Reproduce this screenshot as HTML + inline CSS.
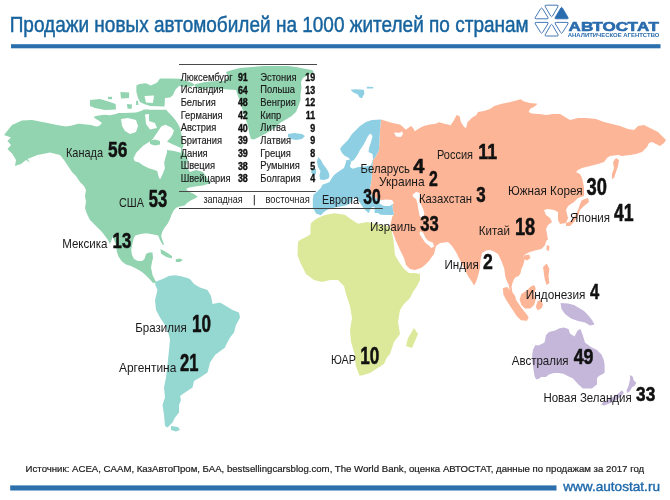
<!DOCTYPE html>
<html><head><meta charset="utf-8"><style>
html,body{margin:0;padding:0;background:#fff;}
body{width:670px;height:500px;overflow:hidden;position:relative;}
svg{position:absolute;left:0;top:0;}
text{font-family:"Liberation Sans","DejaVu Sans",sans-serif;}
</style></head><body>
<svg width="670" height="500" viewBox="0 0 670 500">
<rect width="670" height="500" fill="#fff"/>
<g id="map">
<path d="M4,135 L12,125 L22,120.5 L32,120 L45,122.5 L57,125 L66,126.6 L72,125.4 L78,123.7 L84,124.3 L91,125 L96,126.6 L99,126 L102,123 L99,120.7 L96,119 L93.5,117 L96,116 L100.6,115.3 L105,114.7 L110,115.3 L116,114 L118.5,113 L125,113 L136,112.5 L141,111 L144,109.5 L166,109.5 L168,112 L172,116 L175.4,120 L178,124 L180,128 L181.4,134 L182.6,140 L183.5,145 L182,150 L186,156 L188,160 L186,166 L190,172 L196,170 L203,172 L207,178 L211,183 L203,185.4 L194.6,186.6 L188.6,187.8 L186,189 L188.6,191.4 L193,193.4 L197.8,196.4 L195.4,198.2 L190.6,200.6 L187,203 L184.6,205.4 L179.8,206.6 L176.2,207.8 L173.8,210.2 L171.4,215 L170.2,218.6 L169,221 L167.8,223.4 L166,225.8 L164.2,228.2 L163,230.6 L161.8,233 L161.2,236 L162,239 L163,241.4 L164,245 L162.5,244.5 L160,240 L158.2,235.4 L152.2,234.2 L146.4,233.3 L140.8,234 L135.2,235.4 L133.8,238.2 L132.4,243.8 L131.2,250 L132,255 L134,259 L138,261 L142,261 L144.5,259 L146,254 L149,252.5 L152.5,252.5 L153,258 L152,262 L151,267.5 L152.5,275 L155,280 L156.5,282.5 L153,283 L149.5,279 L146,275.5 L142,272 L137,269 L131,266 L126,264.5 L122,261.5 L118.4,256.4 L117,252.2 L115.6,243.8 L112.8,236.8 L110,244 L108,240 L105,236 L102,232 L98,228 L94,224 L90,220 L87,214 L85,208 L86,202 L85,196 L86,190 L84,186 L80,182 L76,176 L72,172 L68,166 L64,160 L60,155 L50,152.5 L37.5,155 L27.5,159 L30,162.5 L26,160 L21,164 L15,166 L16,160 L12.5,154 L7.5,149 L11,145 L7.5,141 L11,137.5 Z" fill="#92d3b0"/>
<path d="M136.4,85.6 L139.6,84 L146,83.2 L150.8,85.6 L157.2,82.4 L160,78.5 L170,78.4 L180,78.8 L187.5,81.3 L192.2,83 L195,85 L191,86.5 L184,87 L179,86 L176,89 L174.2,92 L173,95 L170,97.5 L165,98 L164.5,106.5 L150,106 L144,104 L140,102 L138,98 L136.4,92 Z" fill="#92d3b0"/>
<path d="M127,104 L132,104.5 L131.5,109 L127.5,108.5 Z" fill="#92d3b0"/>
<path d="M136,101 L138,100.7 L138.5,105 L136.2,105 Z" fill="#92d3b0"/>
<path d="M120.4,92 L129.2,92.5 L129,98 L121,98.4 Z" fill="#92d3b0"/>
<path d="M108,96.8 L112,96.8 L112,99.2 L108,99.2 Z" fill="#92d3b0"/>
<path d="M90,100 L100,99 L110,102 L115.6,104 L116,109.6 L105,110 L95,108 L90,106 Z" fill="#92d3b0"/>
<path d="M160.4,249 L164.6,251.2 L168.8,253.8 L172.2,256.3 L171.4,258.6 L166,256.8 L161.2,253.8 Z" fill="#92d3b0"/>
<path d="M175.8,259.2 L180,258.5 L182.8,259.9 L180,262 L175.8,262 Z" fill="#92d3b0"/>
<path d="M226,72 L232,70 L240,68 L252,67 L264,66 L276,66 L288,66 L296,67 L306,69 L312,70 L314,72 L308,75 L303,78 L301,82 L301.5,88 L300.5,94 L300.5,100 L298.5,106 L296,112 L291,116.5 L285,120 L280,123 L276,127 L270,131 L264,134.5 L258,137.5 L254,139.5 L251,139 L250,136 L249,132 L248,126 L246,120 L244,114 L242,108 L240,102 L238,96 L236,90 L228,89.5 L222,89 L211,88 L201.8,89 L195,88 L195,84.3 L205,82 L213.7,81.3 L224.5,80.7 L228,77 Z" fill="#92d3b0"/>
<path d="M121,119 L128,118 L136,120 L138,126 L136,132 L130,134 L125,131 L122,126 Z" fill="#fff"/>
<path d="M145,114.5 L149,114 L149,121 L155,123 L157,128 L150,129.5 L146,124 Z" fill="#fff"/>
<path d="M144.5,96 L154,95.5 L153,103 L146,102.5 Z" fill="#fff"/>
<path d="M149,107.5 L166,107.5 L166,109.5 L149,109.5 Z" fill="#fff"/>
<path d="M133.4,158.4 L136.2,152.8 L140.4,148.6 L143.2,145.8 L147.4,143 L150.2,141.6 L153,138.8 L155.8,134.6 L158.6,130.4 L161.4,126.2 L165.6,124.8 L171.2,127.6 L174,130.4 L172.6,134.6 L169.8,138.8 L167,141.6 L172,144 L181,148 L181,152.8 L174,151 L167,150 L167,152.8 L165.6,157 L164.2,162.6 L164.9,168.2 L162.8,173.8 L160,179.4 L158.6,176.6 L157.2,171 L153,169.6 L148.8,168.2 L143.2,165.4 L139,162.6 L134.8,161.2 Z" fill="#fff"/>
<path d="M150,140.5 L155,139.5 L160,141 L160,144.5 L155,145.5 L150,144 Z" fill="#92d3b0"/>
<path d="M156.2,281.6 L163.2,278.8 L168.8,276 L174.4,275.3 L180,276 L185.6,277.4 L190,279 L194,284 L200,287.5 L207.5,290 L211,296 L212.5,304 L220,302.5 L226,306 L232.5,310 L239,312.5 L240,317.5 L236,325 L234,332.5 L230,337.5 L226,345 L225,347.5 L215,355 L210,362.5 L207.5,372.5 L200,377.5 L194,381 L192.5,387.5 L185,392.5 L180,396 L181,400 L179,405 L179,412.5 L175,417.5 L172.5,422.5 L167.5,427.5 L165,426 L164,415 L162.5,405 L165,397.5 L164,387.5 L166,377.5 L167.5,365 L169,350 L170,340 L169,335 L165,325 L160,317.5 L156,310 L155,300 L157.5,290 L155,284 Z" fill="#95d7d1"/>
<path d="M171,426 L178,427 L180,430 L176,431.5 L171,430 Z" fill="#95d7d1"/>
<path d="M316,219 L320,217 L325,215 L334.3,213.3 L344.8,214.8 L350.7,219 L358,223.7 L367,222 L374.6,223.7 L382,225 L389.6,226.7 L391.5,230 L393.5,240 L395,255 L399,262 L404,269 L409,273 L415,273 L420,274 L420,280 L417,286 L413,292 L410,298 L404,304 L400,310 L398,322 L400,334 L394,342 L390,354 L386.9,357.5 L384,364 L377.3,368.2 L370,373 L362,375.4 L359.4,375.4 L355.8,365.8 L354.6,353.9 L351,342 L350,330 L352,318 L350,306 L346,294 L344,286 L338,280 L330,280 L322,282 L314,280 L306,274 L300,262 L297.5,255 L298,242 L300,240 L308,236 L310.5,234 L310.5,227 L311,223 Z" fill="#dce99a"/>
<path d="M414,328 L418,334 L412,348 L406,346 L408,338 Z" fill="#dce99a"/>
<path d="M381,119.5 L385,120.8 L392.4,123 L399.9,124.6 L402.8,126.8 L405.8,129.8 L408.8,127.5 L411,126 L413.3,128.3 L414.8,131.3 L419.3,128.3 L423.7,126 L429.7,124.6 L435.7,123.8 L438.7,122.3 L444.6,123.8 L450.6,125.3 L453.6,120.8 L456.6,114.9 L459.6,116.3 L461,122.3 L464,126.8 L466,128.3 L467.5,122.3 L472,117.8 L476.4,114.9 L478,111.9 L484,111.1 L490,108.9 L494.3,105.9 L501.8,103.7 L509.3,102.2 L515.2,100.7 L520.4,99.2 L524.2,101.4 L530,102.9 L537.6,103.7 L534.6,106.6 L530,108.9 L528.7,111.9 L531.6,113.4 L539,114.1 L546.6,114.9 L552.5,114.1 L560,114.1 L570,120 L578,118 L586,118 L596,119 L604,122 L612,124 L620,126 L628,129 L634,130 L638,126 L644,125 L650,128 L658,132 L662,136 L666,140 L664,143 L660,146 L656,144 L652,142 L649,143 L647,147 L645,149 L642,152 L636,154 L630,155 L622,156 L618,155 L610,156 L607,158 L604,162 L598,164 L590,166 L582,168 L578,170 L576,172 L580,174 L582,178 L583,182 L584,188 L584,196 L578,198 L574,202 L568,206 L566,210 L568,218 L566,223 L560,224 L558,220 L558,212 L554,210 L548,209 L544,210 L546,215 L550,218 L552,222 L548,225 L546,229 L547,234 L548,240 L546.7,240 L544.8,245.4 L541.3,249 L534,250.8 L528.6,252.6 L525,254.4 L523.2,256.2 L525,257 L524.1,261.6 L523.2,265.2 L521.4,268.8 L520.5,273.3 L518.7,276 L516,277 L514.2,278.7 L512.4,283.2 L511.5,286.8 L512.4,292.2 L515.1,295.9 L516,299.5 L514.2,299.5 L511.5,295 L509.7,290.5 L508.8,285 L507,281.4 L505.2,276 L504.3,268.8 L501.6,261.6 L500,258 L498,254 L494,251.5 L490,250 L486,250.5 L482,253 L480.5,260 L480,268 L478,276 L476,282 L474,285.5 L472,282 L468,276 L464,268 L460,260 L456,252 L452,246 L448,242 L440,243 L436,246 L435,250 L434,254 L431,258 L429,261 L425,265 L421,268 L415,270 L410,269 L406,265 L404,258 L400,250 L396,241 L392.4,231 L390,226 L392.5,216 L394,215 L392.5,207 L393,203 L390,201 L384,200 L379,199.8 L371.6,195.4 L370,188 L371.6,179 L372,170 L373,160 L376,156 L379,150 L379.5,140 L380,130 Z" fill="#fcb596"/>
<path d="M502.8,288 L507.5,287 L510.5,291.5 L514,297 L517.8,302.5 L521.5,308 L526,313.4 L528.7,317.2 L527,320.8 L521,320.2 L517,316.5 L513.4,311 L509.8,305.5 L506.2,300 L503.4,294.5 Z" fill="#fcb596"/>
<path d="M521.4,294 L526.8,290.5 L530.4,286.8 L534,285 L535.8,288.6 L534,294 L535.8,299.5 L534,304.9 L530.4,308.5 L525,308.5 L521.4,304.9 L519.6,299.5 Z" fill="#fcb596"/>
<path d="M537.6,301.3 L541.3,299.5 L543,304.9 L541.3,308.5 L537.6,310.3 L535.8,306.7 Z" fill="#fcb596"/>
<path d="M546.7,245 L549.4,246 L549,251 L546.5,250 Z" fill="#fcb596"/>
<path d="M582,200 L588,198 L589,202 L584,206 L580,210 L578,216 L574,222 L570,226 L566,226 L566,223 L571,221 L575,216 L578,210 L580,204 Z" fill="#fcb596"/>
<path d="M616,158 L619,160 L618,166 L616,172 L614,178 L612,179 L612,174 L614,168 L613,162 Z" fill="#fcb596"/>
<path d="M543,267 L546.7,263.4 L549.4,268.8 L548.5,276 L549.4,283 L546.7,285 L544.8,279.6 L544,274.2 Z" fill="#fcb596"/>
<path d="M524,255.5 L529,254.5 L530.5,258 L527,260.5 L524,259 Z" fill="#fcb596"/>
<path d="M360,126 L366,122 L372,120 L381,119.5 L380,130 L379.5,140 L379,150 L376,156 L373,160 L372,170 L371.6,179 L370,188 L371.6,195.4 L379,199.8 L384,200 L390,201 L393,203 L392.5,207 L394,215 L389.6,215 L380.6,214.8 L378,213 L374.6,213 L374.6,207.3 L372,207 L370,210 L368.7,213.3 L364,208.8 L361,204.3 L358,200 L354,197 L352,201.3 L349,204.3 L344.8,205.8 L335.8,207.3 L330,208.8 L327,210 L324,212 L320.8,215.2 L316,213.6 L312.8,207.2 L312.8,199.2 L313.6,194.4 L317.6,191.2 L320.8,188 L322.4,184.8 L326,183.5 L329.5,182 L331.5,178.5 L334,175 L338,172 L344,168 L346,162 L349,160 L351,162 L349,158 L345,156 L342,153 L340,149 L342,146 L348,140 L352,134 L356,130 Z" fill="#8ecfe3"/>
<path d="M318,157 L321,160 L323,164 L326,168 L328.5,172 L329.5,176 L328.5,178.5 L324,180 L320,179.5 L319.5,175 L320.5,171 L318,167 L317,162 Z" fill="#8ecfe3"/>
<path d="M312,168 L316,169 L316,174 L313,175 L311,172 Z" fill="#8ecfe3"/>
<path d="M288,134 L294,133 L302,134 L305,136 L302,139 L296,140 L291,139 L288,137 Z" fill="#8ecfe3"/>
<path d="M350.6,89.8 L355.4,89.2 L363.8,89.8 L364.4,93.4 L362,98.2 L359.6,97.6 L357.8,94.6 L353,92.2 Z" fill="#8ecfe3"/>
<path d="M366.8,86.8 L373.4,87 L373,88.6 L367,88.6 Z" fill="#8ecfe3"/>
<path d="M368,136 L370.5,133.5 L372.5,136 L371,142 L369,148 L368.5,152 L372.5,154 L373,159 L371,165.5 L364,166.4 L357.6,167.2 L352.8,168.8 L350,167 L350.5,162 L352,161 L354,160 L358,154 L360,150 L364,144 L366.5,139 Z" fill="#fff"/>
<path d="M379,200.5 L386,199.5 L392,200 L394,203 L390,206 L384,206 L380,204 Z" fill="#fff"/>
<path d="M416,192 L419.5,192.7 L420.2,196.2 L418.8,200.4 L421,204.6 L423,208.8 L424.4,213 L423.7,216.5 L421.6,218 L419.5,215.8 L418.8,211.6 L418,207.4 L417.4,203.2 L416,199 L413.2,196.9 L412.5,194.8 Z" fill="#fff"/>
<path d="M420.2,231.2 L423,232.6 L425.8,238.2 L428.6,241 L432.8,242.4 L434.2,246.6 L431.4,248 L428.6,245.2 L425,242.4 L422.3,238.2 L419.5,234 Z" fill="#fff"/>
<path d="M394,132.5 L400,132.8 L402,131.3 L403,134 L401,137 L396,136.5 Z" fill="#fff"/>
<path d="M346,160.5 L349.5,159.5 L351,163 L349.5,166 L346.5,166 Z" fill="#8ecfe3"/>
<path d="M560.5,303 L568,303.5 L574,305 L580,308.5 L584,311 L588,315 L592,320 L594.5,324.5 L590,325.5 L585,322.5 L578,321 L571,318.5 L565,314 L561.5,309 Z" fill="#c5b7da"/>
<path d="M535.4,345 L538.5,345.5 L544.5,342.5 L546,335 L549,332 L555,330.5 L559.5,328.2 L564,327.5 L568.5,329 L570,333.5 L574.5,336.5 L577.5,330.5 L580.5,329 L582.7,335 L585,342.5 L591,347 L597,350 L601.5,354.5 L603.8,360 L604.6,364.5 L604.6,372.7 L602.3,374.2 L599.3,375.7 L597,377.9 L597,384.6 L594.9,386.1 L591.9,388.4 L582.9,388.4 L578.4,384.6 L573,378.6 L568.2,376.2 L563.4,373.8 L558.6,373 L553.8,373 L549,374.6 L545.8,377 L541,377 L539.4,378.6 L536.2,379.4 L534.6,376.2 L533.8,371.4 L533,365.8 L532.2,361 L532.2,354.6 L533,349.8 Z" fill="#c5b7da"/>
<path d="M630,374.9 L632.8,376.7 L633.7,380.3 L636.4,383 L634.6,385.7 L631.9,387.5 L630,391 L627.4,392.9 L626.5,390.2 L628.3,386.6 L629.2,383 L630,379.4 Z" fill="#c5b7da"/>
<path d="M622,390.2 L623.8,392.9 L621,396.5 L617.5,399.2 L613,401.9 L608.5,403.7 L604,405.5 L601.3,404.6 L603.1,401.9 L607.6,400.1 L612,397.4 L616.6,394.7 L620.2,392 Z" fill="#c5b7da"/>
</g>
<g id="legend">
<text x="180.7" y="80.7" font-size="10.3" fill="#1a1a1a" stroke="#1a1a1a" stroke-width="0.15" textLength="51.87" lengthAdjust="spacingAndGlyphs">Люксембург</text>
<text x="247.8" y="81.1" font-size="10.6" font-weight="bold" fill="#111" stroke="#111" stroke-width="0.4" text-anchor="end" transform="translate(247.8 0) scale(0.84 1) translate(-247.8 0)">91</text>
<text x="180.7" y="93.4" font-size="10.3" fill="#1a1a1a" stroke="#1a1a1a" stroke-width="0.15" textLength="42.95" lengthAdjust="spacingAndGlyphs">Исландия</text>
<text x="247.8" y="93.8" font-size="10.6" font-weight="bold" fill="#111" stroke="#111" stroke-width="0.4" text-anchor="end" transform="translate(247.8 0) scale(0.84 1) translate(-247.8 0)">64</text>
<text x="180.7" y="106.0" font-size="10.3" fill="#1a1a1a" stroke="#1a1a1a" stroke-width="0.15" textLength="35.05" lengthAdjust="spacingAndGlyphs">Бельгия</text>
<text x="247.8" y="106.4" font-size="10.6" font-weight="bold" fill="#111" stroke="#111" stroke-width="0.4" text-anchor="end" transform="translate(247.8 0) scale(0.84 1) translate(-247.8 0)">48</text>
<text x="180.7" y="118.7" font-size="10.3" fill="#1a1a1a" stroke="#1a1a1a" stroke-width="0.15" textLength="41.91" lengthAdjust="spacingAndGlyphs">Германия</text>
<text x="247.8" y="119.1" font-size="10.6" font-weight="bold" fill="#111" stroke="#111" stroke-width="0.4" text-anchor="end" transform="translate(247.8 0) scale(0.84 1) translate(-247.8 0)">42</text>
<text x="180.7" y="131.3" font-size="10.3" fill="#1a1a1a" stroke="#1a1a1a" stroke-width="0.15" textLength="35.54" lengthAdjust="spacingAndGlyphs">Австрия</text>
<text x="247.8" y="131.7" font-size="10.6" font-weight="bold" fill="#111" stroke="#111" stroke-width="0.4" text-anchor="end" transform="translate(247.8 0) scale(0.84 1) translate(-247.8 0)">40</text>
<text x="180.7" y="143.9" font-size="10.3" fill="#1a1a1a" stroke="#1a1a1a" stroke-width="0.15" textLength="41.38" lengthAdjust="spacingAndGlyphs">Британия</text>
<text x="247.8" y="144.3" font-size="10.6" font-weight="bold" fill="#111" stroke="#111" stroke-width="0.4" text-anchor="end" transform="translate(247.8 0) scale(0.84 1) translate(-247.8 0)">39</text>
<text x="180.7" y="156.6" font-size="10.3" fill="#1a1a1a" stroke="#1a1a1a" stroke-width="0.15" textLength="26.98" lengthAdjust="spacingAndGlyphs">Дания</text>
<text x="247.8" y="157.0" font-size="10.6" font-weight="bold" fill="#111" stroke="#111" stroke-width="0.4" text-anchor="end" transform="translate(247.8 0) scale(0.84 1) translate(-247.8 0)">39</text>
<text x="180.7" y="169.2" font-size="10.3" fill="#1a1a1a" stroke="#1a1a1a" stroke-width="0.15" textLength="34.27" lengthAdjust="spacingAndGlyphs">Швеция</text>
<text x="247.8" y="169.7" font-size="10.6" font-weight="bold" fill="#111" stroke="#111" stroke-width="0.4" text-anchor="end" transform="translate(247.8 0) scale(0.84 1) translate(-247.8 0)">38</text>
<text x="180.7" y="181.9" font-size="10.3" fill="#1a1a1a" stroke="#1a1a1a" stroke-width="0.15" textLength="49.90" lengthAdjust="spacingAndGlyphs">Швейцария</text>
<text x="247.8" y="182.3" font-size="10.6" font-weight="bold" fill="#111" stroke="#111" stroke-width="0.4" text-anchor="end" transform="translate(247.8 0) scale(0.84 1) translate(-247.8 0)">38</text>
<text x="260.3" y="80.7" font-size="10.3" fill="#1a1a1a" stroke="#1a1a1a" stroke-width="0.15" textLength="36.22" lengthAdjust="spacingAndGlyphs">Эстония</text>
<text x="315.2" y="81.1" font-size="10.6" font-weight="bold" fill="#111" stroke="#111" stroke-width="0.4" text-anchor="end" transform="translate(315.2 0) scale(0.84 1) translate(-315.2 0)">19</text>
<text x="260.3" y="93.4" font-size="10.3" fill="#1a1a1a" stroke="#1a1a1a" stroke-width="0.15" textLength="34.74" lengthAdjust="spacingAndGlyphs">Польша</text>
<text x="315.2" y="93.8" font-size="10.6" font-weight="bold" fill="#111" stroke="#111" stroke-width="0.4" text-anchor="end" transform="translate(315.2 0) scale(0.84 1) translate(-315.2 0)">13</text>
<text x="260.3" y="106.0" font-size="10.3" fill="#1a1a1a" stroke="#1a1a1a" stroke-width="0.15" textLength="35.49" lengthAdjust="spacingAndGlyphs">Венгрия</text>
<text x="315.2" y="106.4" font-size="10.6" font-weight="bold" fill="#111" stroke="#111" stroke-width="0.4" text-anchor="end" transform="translate(315.2 0) scale(0.84 1) translate(-315.2 0)">12</text>
<text x="260.3" y="118.7" font-size="10.3" fill="#1a1a1a" stroke="#1a1a1a" stroke-width="0.15" textLength="20.93" lengthAdjust="spacingAndGlyphs">Кипр</text>
<text x="315.2" y="119.1" font-size="10.6" font-weight="bold" fill="#111" stroke="#111" stroke-width="0.4" text-anchor="end" transform="translate(315.2 0) scale(0.84 1) translate(-315.2 0)">11</text>
<text x="260.3" y="131.3" font-size="10.3" fill="#1a1a1a" stroke="#1a1a1a" stroke-width="0.15" textLength="25.70" lengthAdjust="spacingAndGlyphs">Литва</text>
<text x="315.2" y="131.7" font-size="10.6" font-weight="bold" fill="#111" stroke="#111" stroke-width="0.4" text-anchor="end" transform="translate(315.2 0) scale(0.84 1) translate(-315.2 0)">9</text>
<text x="260.3" y="143.9" font-size="10.3" fill="#1a1a1a" stroke="#1a1a1a" stroke-width="0.15" textLength="30.67" lengthAdjust="spacingAndGlyphs">Латвия</text>
<text x="315.2" y="144.3" font-size="10.6" font-weight="bold" fill="#111" stroke="#111" stroke-width="0.4" text-anchor="end" transform="translate(315.2 0) scale(0.84 1) translate(-315.2 0)">9</text>
<text x="260.3" y="156.6" font-size="10.3" fill="#1a1a1a" stroke="#1a1a1a" stroke-width="0.15" textLength="30.58" lengthAdjust="spacingAndGlyphs">Греция</text>
<text x="315.2" y="157.0" font-size="10.6" font-weight="bold" fill="#111" stroke="#111" stroke-width="0.4" text-anchor="end" transform="translate(315.2 0) scale(0.84 1) translate(-315.2 0)">8</text>
<text x="260.3" y="169.2" font-size="10.3" fill="#1a1a1a" stroke="#1a1a1a" stroke-width="0.15" textLength="39.40" lengthAdjust="spacingAndGlyphs">Румыния</text>
<text x="315.2" y="169.7" font-size="10.6" font-weight="bold" fill="#111" stroke="#111" stroke-width="0.4" text-anchor="end" transform="translate(315.2 0) scale(0.84 1) translate(-315.2 0)">5</text>
<text x="260.3" y="181.9" font-size="10.3" fill="#1a1a1a" stroke="#1a1a1a" stroke-width="0.15" textLength="40.47" lengthAdjust="spacingAndGlyphs">Болгария</text>
<text x="315.2" y="182.3" font-size="10.6" font-weight="bold" fill="#111" stroke="#111" stroke-width="0.4" text-anchor="end" transform="translate(315.2 0) scale(0.84 1) translate(-315.2 0)">4</text>
<rect x="179" y="64" width="138" height="1" fill="#4a4a4a"/>
<rect x="179" y="191" width="136.7" height="1" fill="#4a4a4a"/>
<rect x="179" y="208" width="203.8" height="1" fill="#3f3f3f"/>
<text x="203.4" y="202.5" font-size="10" fill="#1a1a1a" textLength="39.4" lengthAdjust="spacingAndGlyphs">западная</text>
<rect x="253.8" y="195" width="1" height="10.3" fill="#2a2a2a"/>
<text x="265.5" y="202.5" font-size="10" fill="#1a1a1a" textLength="44.2" lengthAdjust="spacingAndGlyphs">восточная</text>
</g>
<g id="labels">
<text x="66.0" y="156.5" font-size="12.2" fill="#1a1a1a" textLength="37.0" lengthAdjust="spacingAndGlyphs">Канада</text>
<text x="108.1" y="156.7" font-size="22.0" font-weight="bold" fill="#111" stroke="#111" stroke-width="0.55" stroke-linejoin="round" textLength="19.2" lengthAdjust="spacingAndGlyphs">56</text>
<text x="119.0" y="206.5" font-size="12.2" fill="#1a1a1a" textLength="25.0" lengthAdjust="spacingAndGlyphs">США</text>
<text x="148.7" y="206.6" font-size="23.2" font-weight="bold" fill="#111" stroke="#111" stroke-width="0.55" stroke-linejoin="round" textLength="18.4" lengthAdjust="spacingAndGlyphs">53</text>
<text x="62.2" y="248.3" font-size="12.2" fill="#1a1a1a" textLength="45.3" lengthAdjust="spacingAndGlyphs">Мексика</text>
<text x="112.6" y="248.0" font-size="22.2" font-weight="bold" fill="#111" stroke="#111" stroke-width="0.55" stroke-linejoin="round" textLength="18.6" lengthAdjust="spacingAndGlyphs">13</text>
<text x="135.3" y="332.0" font-size="12.2" fill="#1a1a1a" textLength="51.4" lengthAdjust="spacingAndGlyphs">Бразилия</text>
<text x="191.9" y="331.8" font-size="23.2" font-weight="bold" fill="#111" stroke="#111" stroke-width="0.55" stroke-linejoin="round" textLength="19.0" lengthAdjust="spacingAndGlyphs">10</text>
<text x="119.0" y="371.5" font-size="12.2" fill="#1a1a1a" textLength="57.3" lengthAdjust="spacingAndGlyphs">Аргентина</text>
<text x="180.0" y="371.3" font-size="23.0" font-weight="bold" fill="#111" stroke="#111" stroke-width="0.55" stroke-linejoin="round" textLength="18.4" lengthAdjust="spacingAndGlyphs">21</text>
<text x="322.0" y="204.0" font-size="12.2" fill="#1a1a1a" textLength="37.0" lengthAdjust="spacingAndGlyphs">Европа</text>
<text x="363.3" y="203.7" font-size="22.9" font-weight="bold" fill="#111" stroke="#111" stroke-width="0.55" stroke-linejoin="round" textLength="17.4" lengthAdjust="spacingAndGlyphs">30</text>
<text x="360.6" y="173.0" font-size="12.2" fill="#1a1a1a" textLength="49.4" lengthAdjust="spacingAndGlyphs">Беларусь</text>
<text x="413.3" y="172.7" font-size="20.1" font-weight="bold" fill="#111" stroke="#111" stroke-width="0.55" stroke-linejoin="round" textLength="11.1" lengthAdjust="spacingAndGlyphs">4</text>
<text x="379.0" y="185.6" font-size="12.2" fill="#1a1a1a" textLength="45.6" lengthAdjust="spacingAndGlyphs">Украина</text>
<text x="428.9" y="185.7" font-size="22.9" font-weight="bold" fill="#111" stroke="#111" stroke-width="0.55" stroke-linejoin="round" textLength="8.8" lengthAdjust="spacingAndGlyphs">2</text>
<text x="370.0" y="231.0" font-size="12.2" fill="#1a1a1a" textLength="46.0" lengthAdjust="spacingAndGlyphs">Израиль</text>
<text x="420.3" y="230.7" font-size="21.5" font-weight="bold" fill="#111" stroke="#111" stroke-width="0.55" stroke-linejoin="round" textLength="18.4" lengthAdjust="spacingAndGlyphs">33</text>
<text x="437.0" y="159.4" font-size="12.2" fill="#1a1a1a" textLength="36.0" lengthAdjust="spacingAndGlyphs">Россия</text>
<text x="478.3" y="159.1" font-size="22.0" font-weight="bold" fill="#111" stroke="#111" stroke-width="0.55" stroke-linejoin="round" textLength="18.8" lengthAdjust="spacingAndGlyphs">11</text>
<text x="419.0" y="202.6" font-size="12.2" fill="#1a1a1a" textLength="53.0" lengthAdjust="spacingAndGlyphs">Казахстан</text>
<text x="476.3" y="202.3" font-size="22.3" font-weight="bold" fill="#111" stroke="#111" stroke-width="0.55" stroke-linejoin="round" textLength="9.4" lengthAdjust="spacingAndGlyphs">3</text>
<text x="478.8" y="235.0" font-size="12.2" fill="#1a1a1a" textLength="31.2" lengthAdjust="spacingAndGlyphs">Китай</text>
<text x="514.9" y="234.7" font-size="24.6" font-weight="bold" fill="#111" stroke="#111" stroke-width="0.55" stroke-linejoin="round" textLength="20.3" lengthAdjust="spacingAndGlyphs">18</text>
<text x="444.5" y="269.4" font-size="12.2" fill="#1a1a1a" textLength="34.3" lengthAdjust="spacingAndGlyphs">Индия</text>
<text x="483.0" y="269.1" font-size="22.6" font-weight="bold" fill="#111" stroke="#111" stroke-width="0.55" stroke-linejoin="round" textLength="9.8" lengthAdjust="spacingAndGlyphs">2</text>
<text x="508.0" y="194.8" font-size="12.2" fill="#1a1a1a" textLength="74.7" lengthAdjust="spacingAndGlyphs">Южная Корея</text>
<text x="586.6" y="194.5" font-size="23.5" font-weight="bold" fill="#111" stroke="#111" stroke-width="0.55" stroke-linejoin="round" textLength="20.4" lengthAdjust="spacingAndGlyphs">30</text>
<text x="569.9" y="221.6" font-size="12.2" fill="#1a1a1a" textLength="40.1" lengthAdjust="spacingAndGlyphs">Япония</text>
<text x="614.0" y="221.3" font-size="23.5" font-weight="bold" fill="#111" stroke="#111" stroke-width="0.55" stroke-linejoin="round" textLength="19.7" lengthAdjust="spacingAndGlyphs">41</text>
<text x="525.8" y="298.6" font-size="12.2" fill="#1a1a1a" textLength="59.6" lengthAdjust="spacingAndGlyphs">Индонезия</text>
<text x="589.9" y="298.5" font-size="21.2" font-weight="bold" fill="#111" stroke="#111" stroke-width="0.55" stroke-linejoin="round" textLength="9.2" lengthAdjust="spacingAndGlyphs">4</text>
<text x="511.8" y="364.7" font-size="12.2" fill="#1a1a1a" textLength="56.8" lengthAdjust="spacingAndGlyphs">Австралия</text>
<text x="573.7" y="364.4" font-size="22.0" font-weight="bold" fill="#111" stroke="#111" stroke-width="0.55" stroke-linejoin="round" textLength="19.8" lengthAdjust="spacingAndGlyphs">49</text>
<text x="543.4" y="401.6" font-size="12.2" fill="#1a1a1a" textLength="88.3" lengthAdjust="spacingAndGlyphs">Новая Зеландия</text>
<text x="636.1" y="401.3" font-size="20.9" font-weight="bold" fill="#111" stroke="#111" stroke-width="0.55" stroke-linejoin="round" textLength="19.2" lengthAdjust="spacingAndGlyphs">33</text>
<text x="331.0" y="363.8" font-size="12.2" fill="#1a1a1a" textLength="24.8" lengthAdjust="spacingAndGlyphs">ЮАР</text>
<text x="360.3" y="363.7" font-size="23.9" font-weight="bold" fill="#111" stroke="#111" stroke-width="0.55" stroke-linejoin="round" textLength="19.1" lengthAdjust="spacingAndGlyphs">10</text>
</g>
<text x="9.7" y="31.8" font-size="21.6" fill="#16639e" stroke="#16639e" stroke-width="0.45" textLength="519" lengthAdjust="spacingAndGlyphs">Продажи новых автомобилей на 1000 жителей по странам</text>
<rect x="11" y="44.2" width="649.5" height="4.1" fill="#2b6fad"/>
<g id="logo">
<path d="M540.65,8.73 Q541.60,7.20 542.55,8.73 L547.85,17.27 Q548.80,18.80 547.00,18.80 L536.20,18.80 Q534.40,18.80 535.35,17.27 Z" fill="none" stroke="#4678b4" stroke-width="1.0" stroke-linejoin="round"/>
<path d="M545.30,6.76 Q544.40,5.20 546.20,5.20 L557.00,5.20 Q558.80,5.20 557.90,6.76 L552.50,16.04 Q551.60,17.60 550.70,16.04 Z" fill="none" stroke="#4678b4" stroke-width="1.0" stroke-linejoin="round"/>
<path d="M560.79,7.98 Q561.60,6.60 562.41,7.98 L567.99,17.42 Q568.80,18.80 567.20,18.80 L556.00,18.80 Q554.40,18.80 555.21,17.42 Z" fill="#2a6cae" stroke="#2a6cae" stroke-width="0.8" stroke-linejoin="round"/>
<path d="M535.35,23.93 Q534.40,22.40 536.20,22.40 L547.00,22.40 Q548.80,22.40 547.85,23.93 L542.55,32.47 Q541.60,34.00 540.65,32.47 Z" fill="none" stroke="#4678b4" stroke-width="1.0" stroke-linejoin="round"/>
<path d="M550.70,25.16 Q551.60,23.60 552.50,25.16 L557.90,34.44 Q558.80,36.00 557.00,36.00 L546.20,36.00 Q544.40,36.00 545.30,34.44 Z" fill="none" stroke="#4678b4" stroke-width="1.0" stroke-linejoin="round"/>
<path d="M555.35,23.93 Q554.40,22.40 556.20,22.40 L567.00,22.40 Q568.80,22.40 567.85,23.93 L562.55,32.47 Q561.60,34.00 560.65,32.47 Z" fill="none" stroke="#4678b4" stroke-width="1.0" stroke-linejoin="round"/>
<text x="568.6" y="30.6" font-size="12.4" font-weight="bold" fill="#2a6cae" stroke="#2a6cae" stroke-width="0.6" stroke-linejoin="round" textLength="90.2" lengthAdjust="spacingAndGlyphs">АВТОСТАТ</text>
<text x="567.8" y="37.4" font-size="5.2" font-weight="bold" fill="#2a6cae" textLength="91.6" lengthAdjust="spacingAndGlyphs">АНАЛИТИЧЕСКОЕ АГЕНТСТВО</text>
</g>
<text x="25.6" y="472" font-size="9.8" fill="#1a1a1a" stroke="#1a1a1a" stroke-width="0.2" textLength="618.6" lengthAdjust="spacingAndGlyphs">Источник: ACEA, CAAM, КазАвтоПром, БАА, bestsellingcarsblog.com, The World Bank, оценка АВТОСТАТ, данные по продажам за 2017 год</text>
<rect x="10.2" y="485.4" width="546.3" height="5.1" fill="#2b6fad"/><!--bar-->
<text x="563.2" y="490.6" font-size="13.4" fill="#1e68aa" stroke="#1e68aa" stroke-width="0.4" textLength="96.8" lengthAdjust="spacingAndGlyphs">www.autostat.ru</text>
</svg>
</body></html>
